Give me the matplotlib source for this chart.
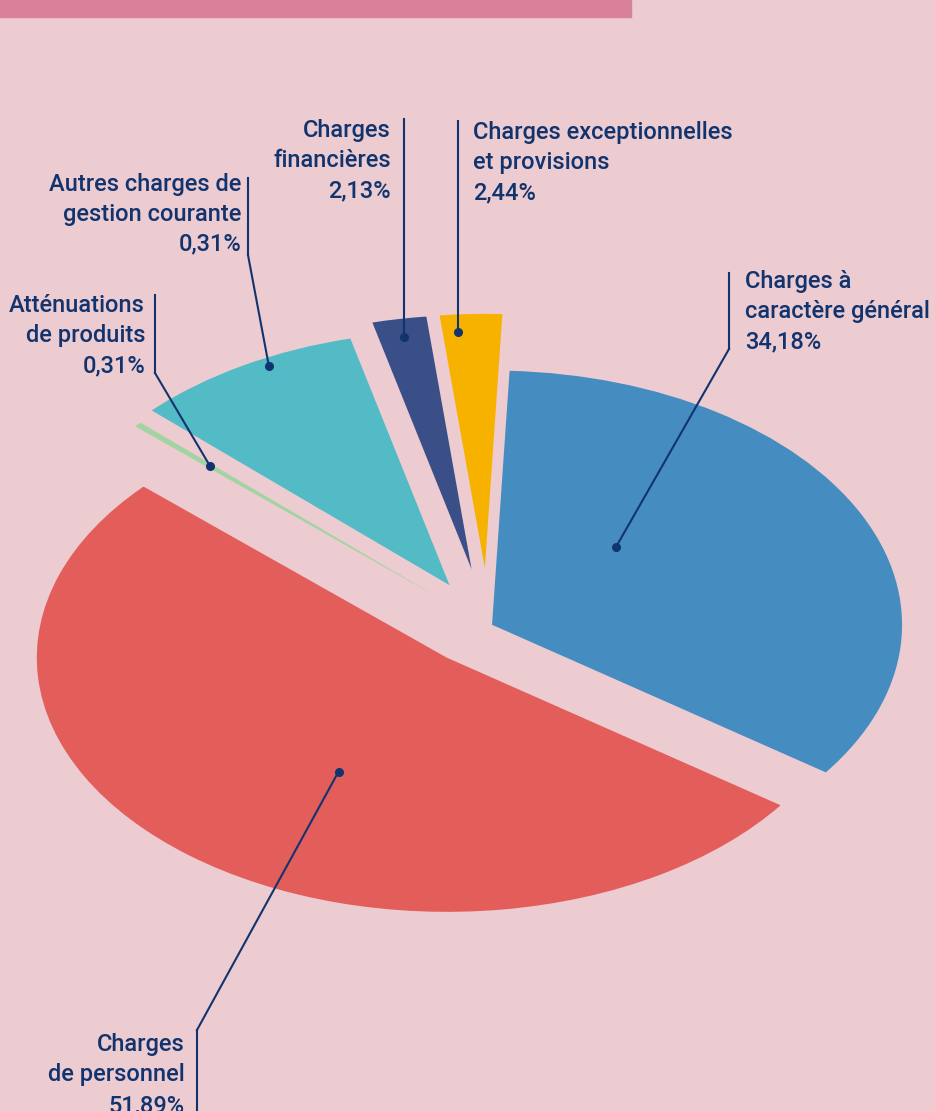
import matplotlib
matplotlib.use("Agg")
import numpy as np
import matplotlib.pyplot as plt
from matplotlib.lines import Line2D
from matplotlib.patches import Rectangle

# ---------------- data ----------------
categories = ["Charges à caractère général",
              "Charges exceptionnelles et provisions",
              "Charges financières",
              "Autres charges de gestion courante",
              "Atténuations de produits",
              "Charges de personnel"]
shares = [34.18, 2.44, 2.13, 9.05, 0.31, 51.89]
label_lines = [["Charges à", "caractère général", "34,18%"],
               ["Charges exceptionnelles", "et provisions", "2,44%"],
               ["Charges", "financières", "2,13%"],
               ["Autres charges de", "gestion courante", "0,31%"],
               ["Atténuations", "de produits", "0,31%"],
               ["Charges", "de personnel", "51,89%"]]

# ---------------- style ----------------
colors = ["#458DC0", "#F7B200", "#3A4F88", "#53BBC5", "#A2D4A2", "#E35E5B"]
explode = [0.011, 0.228, 0.227, 0.186, 0.165, 0.16]
BG = "#ECCBD1"
BAR = "#D9819B"
INK = "#12346E"
W, H = 935, 1111
CX, CY, R, K = 488, 626, 410, 0.62      # pie centre (px), radius (px), tilt ratio

FONT = ["Roboto", "DejaVu Sans"]
FS = 17

# label layout (pixels from top-left):
# text x, first baseline, ha, bar x (None = dot x), bar top, bar bottom, elbow y
layout = [
    (745, 288, "left", 729, 273, 349, 349),
    (473, 139, "left", None, 121, None, None),
    (391, 137, "right", None, 119, None, None),
    (241, 191, "right", 248, 178, 255, 255),
    (145, 312, "right", 155, 295, 373, 373),
    (185, 1051, "right", 197, 1030, 1111, 1030),
]
line_pitch = [30, 30, 30, 29.5, 30, 30.5]
# dot position inside each wedge: (fraction of angle span, fraction of radius)
dot_pos = [(0.657, 0.43), (0.74, 0.93), (0.5, 0.93), (0.40, 0.97), (0.5, 0.76), (0.545, 0.52)]

fig = plt.figure(figsize=(W / 100, H / 100), dpi=100, facecolor=BG)
ax = fig.add_axes([0, 0, 1, 1])
ax.set_facecolor(BG)
wedges, _ = ax.pie(shares, colors=colors, explode=explode, startangle=-35.5,
                   counterclock=True, radius=1, wedgeprops=dict(linewidth=0))
ax.set_aspect("auto")
ax.set_xlim(-CX / R, (W - CX) / R)
ax.set_ylim((CY - H) / (R * K), CY / (R * K))
ax.axis("off")

# top bar
fig.patches.append(Rectangle((0, 1 - 17 / H), 631 / W, 17 / H,
                             transform=fig.transFigure, color=BAR, zorder=0))

def fx(x):
    return x / W

def fy(y):
    return 1 - y / H

fig.canvas.draw()
for w, lines, lay, pitch, (fa, fr) in zip(wedges, label_lines, layout, line_pitch, dot_pos):
    th = np.deg2rad(w.theta1 + fa * (w.theta2 - w.theta1))
    cx, cy = w.center
    dx = cx + fr * w.r * np.cos(th)
    dy = cy + fr * w.r * np.sin(th)
    ax.plot([dx], [dy], "o", color=INK, markersize=5.5, zorder=5)
    px, py = ax.transData.transform((dx, dy))
    dot_x, dot_y = px, H - py

    tx, ty, ha, bx, btop, bbot, elbow = lay
    for i, s in enumerate(lines):
        fig.text(fx(tx), fy(ty + i * pitch), s, ha=ha, va="baseline",
                 color=INK, fontsize=FS, fontweight=500, family=FONT)
    if bx is None:
        xs, ys = [dot_x, dot_x], [btop, dot_y]
        fig.add_artist(Line2D([fx(v) for v in xs], [fy(v) for v in ys],
                              transform=fig.transFigure, color=INK, lw=1.5))
    else:
        fig.add_artist(Line2D([fx(bx), fx(bx)], [fy(btop), fy(bbot)],
                              transform=fig.transFigure, color=INK, lw=1.5))
        fig.add_artist(Line2D([fx(bx), fx(dot_x)], [fy(elbow), fy(dot_y)],
                              transform=fig.transFigure, color=INK, lw=1.5))

fig.savefig("out.png", dpi=100, facecolor=BG)
